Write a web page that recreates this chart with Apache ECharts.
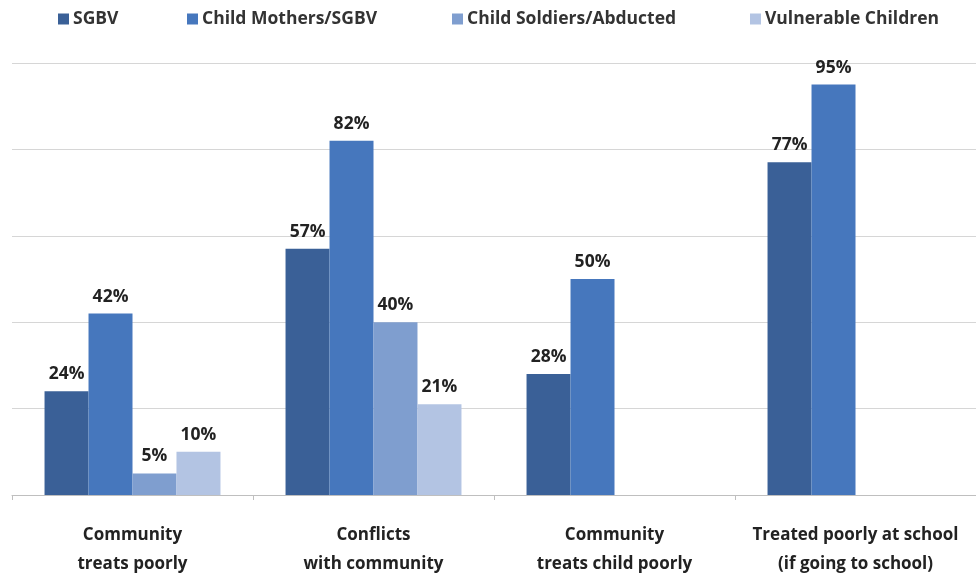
<!DOCTYPE html>
<html>
<head>
<meta charset="utf-8">
<script src="https://cdn.jsdelivr.net/npm/echarts@6/dist/echarts.min.js"></script>
<style>
  html, body { margin: 0; padding: 0; background: #fff; }
  #chart { width: 976px; height: 579px; }
</style>
</head>
<body>
<div id="chart"></div>
<script>
// Share of respondents reporting poor treatment, by group
const categories = [
  'Community\ntreats poorly',
  'Conflicts\nwith community',
  'Community\ntreats child poorly',
  'Treated poorly at school\n(if going to school)'
];
const seriesNames = ['SGBV', 'Child Mothers/SGBV', 'Child Soldiers/Abducted', 'Vulnerable Children'];
const sgbv = [24, 57, 28, 77];
const childMothers = [42, 82, 50, 95];
const childSoldiers = [5, 40, null, null];
const vulnerable = [10, 21, null, null];

const colors = ['#3a6097', '#4677bd', '#7f9ecf', '#b3c4e3'];
const values = [sgbv, childMothers, childSoldiers, vulnerable];
const legendLeft = [58, 187, 452, 750];
const font = 'Open Sans';

const chart = echarts.init(document.getElementById('chart'), null, { renderer: 'canvas' });

const legends = seriesNames.map((name, i) => ({
  data: [name],
  left: legendLeft[i],
  top: 10,
  padding: 0,
  itemWidth: 11,
  itemHeight: 11,
  itemGap: 6,
  icon: 'rect',
  selectedMode: false,
  textStyle: { fontFamily: font, fontWeight: 'bold', fontSize: 17.5, color: '#333', padding: [0, 0, 0, -1] }
}));

chart.setOption({
  animation: false,
  backgroundColor: '#ffffff',
  color: colors,
  legend: legends,
  grid: { left: 12, top: 63, width: 968, bottom: 81, containLabel: false },
  xAxis: {
    type: 'category',
    data: categories,
    axisLine: { lineStyle: { color: '#bfbfbf', width: 1 } },
    axisTick: { show: true, alignWithLabel: false, length: 5, lineStyle: { color: '#bfbfbf' } },
    axisLabel: {
      interval: 0,
      margin: 26,
      fontFamily: font,
      fontWeight: 'bold',
      fontSize: 17,
      lineHeight: 29,
      color: '#222'
    }
  },
  yAxis: {
    type: 'value',
    min: 0,
    max: 100,
    interval: 20,
    axisLabel: { show: false },
    axisLine: { show: false },
    axisTick: { show: false },
    splitLine: { lineStyle: { color: '#d6d6d6', width: 1 } }
  },
  series: seriesNames.map((name, i) => ({
    name: name,
    type: 'bar',
    data: values[i],
    barGap: '0%',
    barCategoryGap: '27%',
    itemStyle: { color: colors[i] },
    label: {
      show: true,
      position: 'top',
      distance: 8,
      formatter: '{c}%',
      fontFamily: font,
      fontWeight: 'bold',
      fontSize: 17.5,
      color: '#222'
    }
  }))
});
</script>
</body>
</html>
